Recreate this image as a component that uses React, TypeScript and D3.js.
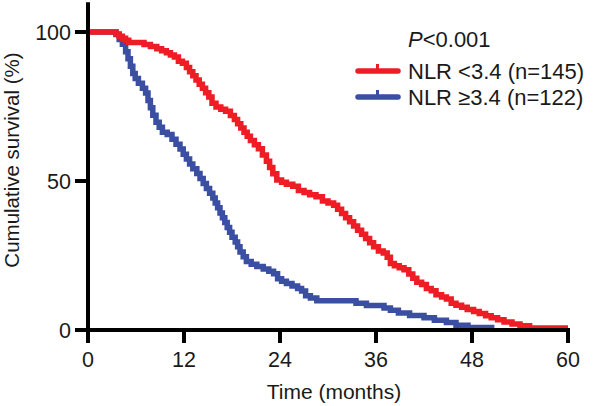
import React from "react";
import * as d3 from "d3";

const redTimes = [0, 3.5, 3.9, 4.3, 4.7, 5.1, 7.0, 7.8, 8.6, 9.2, 9.8, 10.3, 10.8, 11.3, 11.8, 12.3, 12.7, 13.1, 13.5, 13.9, 14.3, 14.7, 15.1, 15.5, 16.0, 16.6, 17.2, 17.8, 18.3, 18.7, 19.1, 19.5, 19.9, 20.3, 20.8, 21.3, 21.8, 22.3, 22.7, 23.1, 23.6, 24.2, 24.8, 25.6, 26.3, 27.0, 27.7, 28.5, 29.3, 30.0, 30.7, 31.2, 31.7, 32.2, 32.7, 33.2, 33.7, 34.2, 34.7, 35.2, 35.7, 36.3, 36.9, 37.4, 37.8, 38.3, 38.9, 39.5, 40.1, 40.6, 41.1, 41.7, 42.3, 42.9, 43.5, 44.2, 44.8, 45.4, 46.0, 46.7, 47.4, 48.2, 48.9, 49.7, 50.4, 51.2, 52.0, 53.0, 54.0, 55.2, 60];
const redSurvival = [100, 99.3, 98.6, 97.9, 97.2, 96.5, 95.8, 95.1, 94.4, 93.7, 93.0, 92.3, 91.6, 90.2, 89.5, 88.1, 86.7, 85.3, 83.9, 82.5, 81.1, 79.6, 78.2, 76.1, 74.8, 74.1, 73.4, 72.0, 70.6, 69.2, 67.8, 66.4, 65.0, 63.6, 62.2, 60.8, 58.7, 56.6, 54.5, 52.4, 50.3, 49.6, 48.9, 48.2, 46.8, 46.1, 45.4, 44.7, 43.3, 42.6, 41.9, 40.5, 39.1, 37.7, 36.3, 34.9, 33.5, 32.1, 30.7, 29.3, 27.9, 26.5, 25.8, 24.4, 22.3, 21.6, 20.9, 20.2, 18.8, 17.4, 16.0, 15.3, 13.9, 13.2, 11.8, 11.1, 10.4, 9.0, 8.3, 7.6, 6.9, 6.2, 5.5, 4.8, 4.1, 3.4, 2.7, 2.0, 1.4, 0.7, 0.7];

const blueTimes = [0, 3.5, 3.9, 4.3, 4.7, 5.0, 5.3, 5.6, 5.9, 6.3, 6.8, 7.2, 7.5, 7.8, 8.1, 8.5, 8.9, 9.3, 9.9, 10.5, 11.0, 11.5, 11.9, 12.3, 12.7, 13.1, 13.6, 14.0, 14.4, 14.8, 15.2, 15.6, 15.9, 16.2, 16.5, 16.8, 17.1, 17.4, 17.7, 18.0, 18.4, 18.7, 19.0, 19.4, 19.8, 20.4, 21.1, 21.9, 22.6, 23.2, 23.7, 24.2, 24.8, 25.5, 26.2, 26.7, 27.2, 27.8, 28.6, 33.5, 34.8, 37.0, 37.8, 38.8, 40.2, 42.0, 43.3, 44.8, 46.0, 47.5, 50.8];
const blueSurvival = [100, 99.2, 97.5, 95.9, 93.4, 91.0, 88.5, 86.1, 84.4, 82.8, 81.1, 79.5, 77.0, 74.6, 72.1, 69.7, 68.0, 66.4, 65.6, 64.0, 62.3, 60.7, 59.0, 57.4, 55.7, 54.1, 52.5, 50.8, 49.2, 47.5, 45.9, 44.3, 42.6, 41.0, 39.3, 37.7, 36.1, 34.4, 32.8, 31.1, 29.5, 27.9, 26.2, 24.6, 23.0, 22.1, 21.3, 20.5, 19.7, 18.9, 17.2, 16.4, 15.6, 14.8, 13.9, 13.1, 11.5, 10.7, 9.8, 9.0, 8.2, 7.4, 6.6, 5.7, 4.9, 4.1, 3.3, 2.5, 1.6, 0.8, 0.8];

const xTicks = [0, 12, 24, 36, 48, 60];
const yTicks = [0, 50, 100];
const seriesNames = ["NLR <3.4 (n=145)", "NLR \u22653.4 (n=122)"];
const pValueText = "<0.001";

const RED = "#EE1D25";
const BLUE = "#3A4EA2";
const FONT = "'Liberation Sans', Arial, Helvetica, sans-serif";
const TEXT = "#1a1a1a";

export default function App() {
  const x = d3.scaleLinear().domain([0, 60]).range([88, 568]);
  const y = d3.scaleLinear().domain([0, 110]).range([330, 2.2]);
  const line = d3
    .line<[number, number]>()
    .x((d) => x(d[0]))
    .y((d) => y(d[1]))
    .curve(d3.curveStepAfter);

  const redData: [number, number][] = redTimes.map((t, i) => [t, redSurvival[i]]);
  const blueData: [number, number][] = blueTimes.map((t, i) => [t, blueSurvival[i]]);

  const legend = [
    { name: seriesNames[0], color: RED, y: 71 },
    { name: seriesNames[1], color: BLUE, y: 97 },
  ];

  return (
    <svg
      width={593}
      height={406}
      style={{ position: "absolute", left: 0, top: 0, background: "#fff" }}
      fontFamily={FONT}
    >
      <rect x={0} y={0} width={593} height={406} fill="#fff" />
      {/* curves */}
      <path d={line(blueData) || ""} fill="none" stroke={BLUE} strokeWidth={5.5} strokeLinejoin="miter" />
      <path d={line(redData) || ""} fill="none" stroke={RED} strokeWidth={5.5} strokeLinejoin="miter" />

      {/* axes */}
      <line x1={x(0)} x2={x(0)} y1={y(110)} y2={343} stroke="#000" strokeWidth={4} />
      <line x1={75} x2={x(60) + 2} y1={y(0)} y2={y(0)} stroke="#000" strokeWidth={4} />
      {yTicks.map((t) => (
        <g key={"y" + t}>
          <line x1={75} x2={x(0)} y1={y(t)} y2={y(t)} stroke="#000" strokeWidth={4} />
          <text x={71} y={y(t) + 7.5} textAnchor="end" fontSize={21.5} fill={TEXT}>
            {t}
          </text>
        </g>
      ))}
      {xTicks.map((t) => (
        <g key={"x" + t}>
          <line x1={x(t)} x2={x(t)} y1={y(0)} y2={343} stroke="#000" strokeWidth={4} />
          <text x={x(t)} y={367} textAnchor="middle" fontSize={21.5} fill={TEXT}>
            {t}
          </text>
        </g>
      ))}

      <text x={334} y={399} textAnchor="middle" fontSize={21} fill={TEXT}>
        Time (months)
      </text>
      <text
        transform={`translate(19, 160) rotate(-90)`}
        textAnchor="middle"
        fontSize={20.5}
        fill={TEXT}
      >
        Cumulative survival (%)
      </text>

      {/* legend */}
      <text x={408} y={47} fontSize={22} fill={TEXT}>
        <tspan fontStyle="italic">P</tspan>
        {pValueText}
      </text>
      {legend.map((l) => (
        <g key={l.name}>
          <line x1={358} x2={398} y1={l.y} y2={l.y} stroke={l.color} strokeWidth={5.5} strokeLinecap="round" />
          <line x1={377.5} x2={377.5} y1={l.y - 7} y2={l.y} stroke={l.color} strokeWidth={3} />
          <text x={408} y={l.y + 7.5} fontSize={22} fill={TEXT}>
            {l.name}
          </text>
        </g>
      ))}
    </svg>
  );
}
